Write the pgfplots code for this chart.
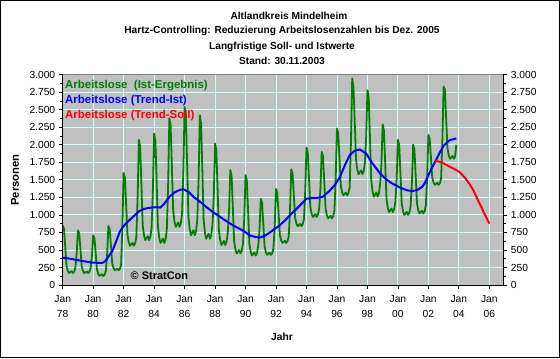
\documentclass[border=0pt]{standalone}
\usepackage{pgfplots}
\pgfplotsset{compat=1.18}
\usepackage{fontspec}
\setmainfont{Liberation Sans}
\definecolor{plotgrey}{RGB}{192,192,192}
\definecolor{gridcyan}{RGB}{204,255,255}
\definecolor{xlgreen}{RGB}{0,128,0}
\definecolor{xlblue}{RGB}{0,0,255}
\definecolor{xlred}{RGB}{255,0,0}
\begin{document}
\begin{tikzpicture}[x=1bp,y=1bp]
\path[use as bounding box] (0,0) rectangle (560,358);
\fill[white] (0,0) rectangle (560,358);
\pgfplotsset{
  common/.style={
    at={(62.7bp,73bp)}, anchor=south west,
    width=440.6bp, height=210.3bp, scale only axis,
    xmin=0, xmax=347, ymin=0, ymax=3000,
    ytick={0,250,...,3000},
    minor y tick num=1,
    major tick length=4bp, minor tick length=2.5bp,
    tick align=outside,
    tick style={black, line width=0.8bp},
    /pgf/number format/assume math mode=true,
    /pgf/number format/1000 sep={.},
    tick label style={font=\fontsize{10.3}{12}\selectfont},
  }
}
\begin{axis}[common,
  axis background/.style={fill=plotgrey},
  axis line style={black, line width=0.8bp},
  xtick={0,24,...,336},
  xticklabels={{Jan\\[3bp]78},{Jan\\[3bp]80},{Jan\\[3bp]82},{Jan\\[3bp]84},{Jan\\[3bp]86},{Jan\\[3bp]88},{Jan\\[3bp]90},{Jan\\[3bp]92},{Jan\\[3bp]94},{Jan\\[3bp]96},{Jan\\[3bp]98},{Jan\\[3bp]00},{Jan\\[3bp]02},{Jan\\[3bp]04},{Jan\\[3bp]06}},
  xticklabel style={align=center, yshift=-3bp},
  xtick pos=bottom, ytick pos=left,
  grid=major,
  major grid style={gridcyan, line width=0.9bp},
]
\addplot[xlgreen, line width=1.8bp, line join=round] coordinates {
(0,850)(1,802)(2,544)(3,272)(4,204)(5,170)(6,184)(7,197)(8,170)(9,190)(10,252)(11,445)
(12,780)(13,737)(14,506)(15,262)(16,201)(17,170)(18,182)(19,194)(20,170)(21,188)(22,243)(23,413)
(24,710)(25,669)(26,449)(27,217)(28,159)(29,130)(30,142)(31,153)(32,130)(33,147)(34,200)(35,450)
(36,840)(37,796)(38,557)(39,305)(40,242)(41,210)(42,223)(43,235)(44,210)(45,229)(46,286)(47,836)
(48,1600)(49,1527)(50,1132)(51,716)(52,612)(53,560)(54,581)(55,602)(56,560)(57,591)(58,685)(59,1240)
(60,2070)(61,1970)(62,1427)(63,855)(64,712)(65,640)(66,669)(67,697)(68,640)(69,683)(70,812)(71,1324)
(72,2160)(73,2051)(74,1458)(75,834)(76,678)(77,600)(78,631)(79,662)(80,600)(81,647)(82,787)(83,1401)
(84,2380)(85,2272)(86,1683)(87,1063)(88,908)(89,830)(90,861)(91,892)(92,830)(93,877)(94,1016)(95,1600)
(96,2540)(97,2412)(98,1717)(99,985)(100,802)(101,710)(102,747)(103,783)(104,710)(105,765)(106,930)(107,1480)
(108,2420)(109,2297)(110,1628)(111,924)(112,748)(113,660)(114,695)(115,730)(116,660)(117,713)(118,871)(119,1272)
(120,2020)(121,1919)(122,1368)(123,788)(124,643)(125,570)(126,599)(127,628)(128,570)(129,614)(130,744)(131,1052)
(132,1640)(133,1557)(134,1105)(135,629)(136,510)(137,450)(138,474)(139,498)(140,450)(141,486)(142,593)(143,954)
(144,1570)(145,1490)(146,1053)(147,593)(148,478)(149,420)(150,443)(151,466)(152,420)(153,455)(154,558)(155,785)
(156,1230)(157,1174)(158,870)(159,550)(160,470)(161,430)(162,446)(163,462)(164,430)(165,454)(166,526)(167,853)
(168,1370)(169,1316)(170,1024)(171,716)(172,639)(173,600)(174,615)(175,631)(176,600)(177,623)(178,692)(179,1073)
(180,1650)(181,1593)(182,1286)(183,962)(184,881)(185,840)(186,856)(187,872)(188,840)(189,864)(190,937)(191,1344)
(192,1960)(193,1891)(194,1515)(195,1119)(196,1020)(197,970)(198,990)(199,1010)(200,970)(201,1000)(202,1089)(203,1389)
(204,1900)(205,1834)(206,1473)(207,1093)(208,998)(209,950)(210,969)(211,988)(212,950)(213,979)(214,1064)(215,1526)
(216,2230)(217,2164)(218,1803)(219,1423)(220,1328)(221,1280)(222,1299)(223,1318)(224,1280)(225,1309)(226,1394)(227,2032)
(228,2950)(229,2823)(230,2334)(231,1786)(232,1649)(233,1580)(234,1607)(235,1635)(236,1580)(237,1621)(238,1744)(239,2120)
(240,2780)(241,2674)(242,2096)(243,1488)(244,1336)(245,1260)(246,1290)(247,1321)(248,1260)(249,1306)(250,1442)(251,1724)
(252,2290)(253,2203)(254,1728)(255,1228)(256,1103)(257,1040)(258,1065)(259,1090)(260,1040)(261,1078)(262,1190)(263,1504)
(264,2070)(265,1995)(266,1589)(267,1161)(268,1054)(269,1000)(270,1021)(271,1043)(272,1000)(273,1032)(274,1128)(275,1450)
(276,2000)(277,1931)(278,1559)(279,1167)(280,1069)(281,1020)(282,1040)(283,1059)(284,1020)(285,1049)(286,1138)(287,1524)
(288,2140)(289,2090)(290,1821)(291,1537)(292,1466)(293,1430)(294,1444)(295,1458)(296,1430)(297,1451)(298,1515)(299,2060)
(300,2830)(301,2788)(302,2367)(303,1955)(304,1852)(305,1800)(306,1821)(307,1841)(308,1800)(309,1831)(310,2000)
};
\addplot[xlblue, line width=2bp, line join=round] coordinates {
(0,390)(6,375)(11,357)(18,335)(24,319)(30,315)(32,320)(34,350)(36,405)(39,480)(41,571)(43,665)(45,762)(48,840)(50,881)(54,950)(57,1000)(60,1050)(64,1086)(68,1100)(73,1110)(77,1105)(80,1160)(84,1257)(88,1320)(92,1355)(95,1367)(99,1330)(103,1257)(108,1190)(113,1114)(118,1045)(124,971)(129,910)(134,852)(139,805)(143,767)(147,710)(151,688)(155,676)(159,700)(163,748)(167,800)(171,852)(175,920)(179,995)(183,1065)(187,1138)(192,1230)(196,1240)(200,1240)(205,1260)(210,1340)(214,1420)(218,1529)(222,1700)(226,1852)(230,1915)(234,1933)(239,1876)(243,1760)(247,1662)(250,1590)(254,1519)(258,1465)(262,1424)(267,1380)(271,1352)(275,1340)(279,1352)(283,1400)(285,1448)(288,1567)(291,1680)(294,1781)(297,1890)(300,1986)(303,2040)(305,2067)(308,2082)(310,2090)
};
\addplot[xlred, line width=2bp, line join=round] coordinates {
(293,1757)(295,1765)(297,1757)(301,1725)(305,1686)(309,1650)(313,1605)(317,1525)(321,1424)(324,1330)(327,1210)(330,1100)(332,1019)(334,950)(336,876)
};
\draw[gray, line width=0.9bp] (rel axis cs:0,1) -- (rel axis cs:1,1);
\end{axis}
\begin{axis}[common,
  axis x line=none,
  axis y line*=right,
  axis line style={black, line width=0.8bp, -},
  ytick pos=right, yticklabel pos=right,
]
\end{axis}
% titles
\begin{scope}[every node/.style={inner sep=0pt, font=\bfseries\fontsize{10.2}{12}\selectfont}]
\node[anchor=base] at (289,338.8) {Altlandkreis Mindelheim};
\node[anchor=base] at (282,324.5) {Hartz-Controlling: Reduzierung Arbeitslosenzahlen bis Dez. 2005};
\node[anchor=base] at (282,308.8) {Langfristige Soll- und Istwerte};
\node[anchor=base] at (282,293.5) {Stand: 30.11.2003};
\end{scope}
% legend texts
\begin{scope}[every node/.style={inner sep=0pt, anchor=base west, font=\bfseries\fontsize{11.5}{13}\selectfont}]
\node[text=xlgreen] at (65,270) {Arbeitslose\ \ (Ist-Ergebnis)};
\node[text=xlblue] at (65,255) {Arbeitslose (Trend-Ist)};
\node[text=xlred] at (65,240) {Arbeitslose (Trend-Soll)};
\node[text=black, font=\bfseries\fontsize{11}{13}\selectfont] at (130.5,79) {© StratCon};
\end{scope}
\node[rotate=90, inner sep=0pt, font=\bfseries\fontsize{11.3}{13}\selectfont] at (15,178) {Personen};
\node[inner sep=0pt, font=\bfseries\fontsize{10.3}{12}\selectfont] at (282,21) {Jahr};
\draw[line width=1bp] (0.5,0.5) rectangle (559.5,357.5);
\end{tikzpicture}
\end{document}
